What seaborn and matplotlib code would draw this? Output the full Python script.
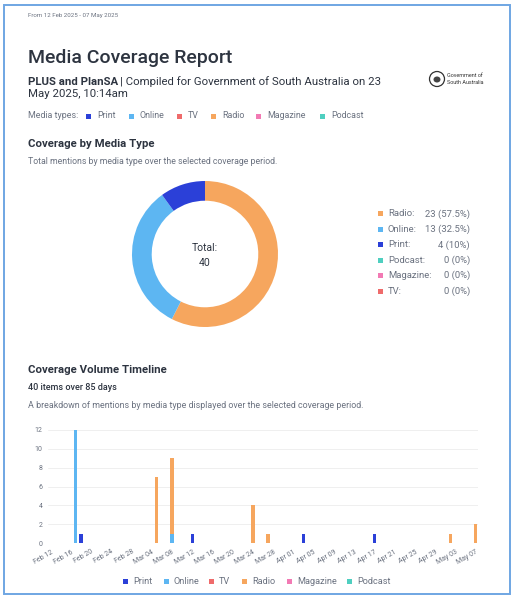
import pandas as pd
import seaborn as sns
import matplotlib.pyplot as plt
from matplotlib.patches import Rectangle, Ellipse

# 数据
media_types = ["Print", "Online", "TV", "Radio", "Magazine", "Podcast"]
media_colors = ["#2b40d8", "#5db6f2", "#ef6b6b", "#f6a65e", "#f27ab4", "#4fcfc0"]

donut_types = ["Radio", "Online", "Print", "Podcast", "Magazine", "TV"]
donut_counts = [23, 13, 4, 0, 0, 0]

timeline_dates = ["2025-02-17", "2025-02-18", "2025-03-05", "2025-03-08", "2025-03-08",
                  "2025-03-12", "2025-03-24", "2025-03-27", "2025-04-03", "2025-04-17",
                  "2025-05-02", "2025-05-07"]
timeline_types = ["Online", "Print", "Radio", "Online", "Radio",
                  "Print", "Radio", "Radio", "Print", "Print",
                  "Radio", "Radio"]
timeline_counts = [12, 1, 7, 1, 8, 1, 4, 1, 1, 1, 1, 2]

start_date = "2025-02-12"
tick_labels = ["Feb 12", "Feb 16", "Feb 20", "Feb 24", "Feb 28", "Mar 04", "Mar 08",
               "Mar 12", "Mar 16", "Mar 20", "Mar 24", "Mar 28", "Apr 01", "Apr 05",
               "Apr 09", "Apr 13", "Apr 17", "Apr 21", "Apr 25", "Apr 29", "May 03", "May 07"]
y_ticks = [0, 2, 4, 6, 8, 10, 12]

palette = dict(zip(media_types, media_colors))

sns.set_theme(style="white")
plt.rcParams["font.family"] = ["Roboto", "DejaVu Sans"]

W, H = 512, 597
fig = plt.figure(figsize=(W / 100, H / 100), dpi=100)
fig.patch.set_facecolor("white")


def fx(x):
    return x / W


def fy(y):
    return 1 - y / H


def square(x, y, color, size=5):
    fig.add_artist(Rectangle((fx(x - size / 2), fy(y + size / 2)), size / W, size / H,
                             transform=fig.transFigure, color=color, linewidth=0))


dark = "#2d3440"
grey = "#6b7280"

# 页面边框
fig.add_artist(Rectangle((fx(4), fy(594)), fx(506), 589 / H, transform=fig.transFigure,
                         fill=False, edgecolor="#6fa6e3", linewidth=1.4))

# 标题区
fig.text(fx(28), fy(16), "From 12 Feb 2025 - 07 May 2025", fontsize=4.4, color=grey, va="center")
fig.text(fx(28), fy(58), "Media Coverage Report", fontsize=14, color=dark, va="center",
         fontweight="medium")
t_bold = fig.text(fx(28), fy(82), "PLUS and PlanSA", fontsize=8.2, color=dark, va="center",
                  fontweight="bold")
renderer = fig.canvas.get_renderer()
bb = t_bold.get_window_extent(renderer)
fig.text(bb.x1 / W + fx(2), fy(82), "| Compiled for Government of South Australia on 23",
         fontsize=8.2, color=dark, va="center")
fig.text(fx(28), fy(94), "May 2025, 10:14am", fontsize=8.2, color=dark, va="center")

# 徽标
fig.add_artist(Ellipse((fx(437), fy(79)), 15 / W, 15 / H, transform=fig.transFigure,
                       fill=False, edgecolor="#333", linewidth=0.9))
fig.add_artist(Ellipse((fx(437), fy(79.5)), 7 / W, 6 / H, transform=fig.transFigure,
                       color="#444", linewidth=0))
fig.text(fx(447), fy(75.5), "Government of", fontsize=3.9, color="#333", va="center")
fig.text(fx(447), fy(82), "South Australia", fontsize=3.9, color="#333", va="center")

# 媒体类型行
fig.text(fx(28), fy(116), "Media types:", fontsize=6.4, color=grey, va="center")
legend_x = [88, 131, 179, 213, 258, 322]
for x, name in zip(legend_x, media_types):
    square(x, 116, palette[name])
    fig.text(fx(x + 9), fy(116), name, fontsize=6.4, color=grey, va="center")

# 环形图
fig.text(fx(28), fy(144), "Coverage by Media Type", fontsize=8.2, color=dark, va="center",
         fontweight="bold")
fig.text(fx(28), fy(161), "Total mentions by media type over the selected coverage period.",
         fontsize=6.3, color=grey, va="center")

ax_d = fig.add_axes([fx(205 - 73), fy(254 + 73), 146 / W, 146 / H])
ax_d.pie(donut_counts[:3], colors=[palette[t] for t in donut_types[:3]], startangle=90,
         counterclock=False, radius=1, wedgeprops=dict(width=0.27, linewidth=0))
ax_d.set_xlim(-1, 1)
ax_d.set_ylim(-1, 1)
ax_d.set_aspect("equal")
ax_d.axis("off")
ax_d.text(0, 0.08, "Total:", ha="center", va="center", fontsize=7.5, color=dark)
ax_d.text(0, -0.12, str(sum(donut_counts)), ha="center", va="center", fontsize=7.5, color=dark)

total = sum(donut_counts)
for i, (name, n) in enumerate(zip(donut_types, donut_counts)):
    y = 214 + i * 15.4
    square(380, y, palette[name])
    fig.text(fx(388), fy(y), f"{name}:", fontsize=6.8, color=grey, va="center")
    pct = n / total * 100
    fig.text(fx(470), fy(y), f"{n} ({pct:g}%)", fontsize=6.8, color=grey, va="center",
             ha="right")

# 时间线
fig.text(fx(28), fy(370), "Coverage Volume Timeline", fontsize=8.2, color=dark, va="center",
         fontweight="bold")
fig.text(fx(28), fy(387), "40 items over 85 days", fontsize=6.5, color=dark, va="center",
         fontweight="medium")
fig.text(fx(28), fy(405),
         "A breakdown of mentions by media type displayed over the selected coverage period.",
         fontsize=6.4, color=grey, va="center")

df = pd.DataFrame({"date": pd.to_datetime(timeline_dates), "type": timeline_types,
                   "count": timeline_counts})
df["day"] = (df["date"] - pd.Timestamp(start_date)).dt.days

ax = fig.add_axes([fx(48), fy(543), 430 / W, 113 / H])
sns.histplot(data=df, x="day", weights="count", hue="type",
             hue_order=["Print", "Radio", "Online"], palette=palette,
             multiple="stack", discrete=True, shrink=0.65, alpha=1, linewidth=0,
             legend=False, ax=ax)
ax.set_xlim(-0.5, 84.5)
ax.set_ylim(0, 12)
ax.set_yticks(y_ticks)
ax.set_yticklabels([str(v) for v in y_ticks], fontsize=5, color=grey)
ax.set_xticks(range(0, 85, 4))
ax.set_xticklabels(tick_labels, fontsize=5, color=grey, rotation=30, ha="right",
                   rotation_mode="anchor")
ax.tick_params(axis="both", length=0, pad=4)
ax.grid(axis="y", color="#ececec", linewidth=0.6)
ax.set_axisbelow(True)
ax.set_xlabel("")
ax.set_ylabel("")
sns.despine(ax=ax, left=True, bottom=True)

# 底部图例
bottom_x = [125, 166, 211, 244, 289, 349]
for x, name in zip(bottom_x, media_types):
    square(x, 581, palette[name])
    fig.text(fx(x + 8), fy(581), name, fontsize=6.6, color=grey, va="center")

plt.savefig("out.png", dpi=100)
